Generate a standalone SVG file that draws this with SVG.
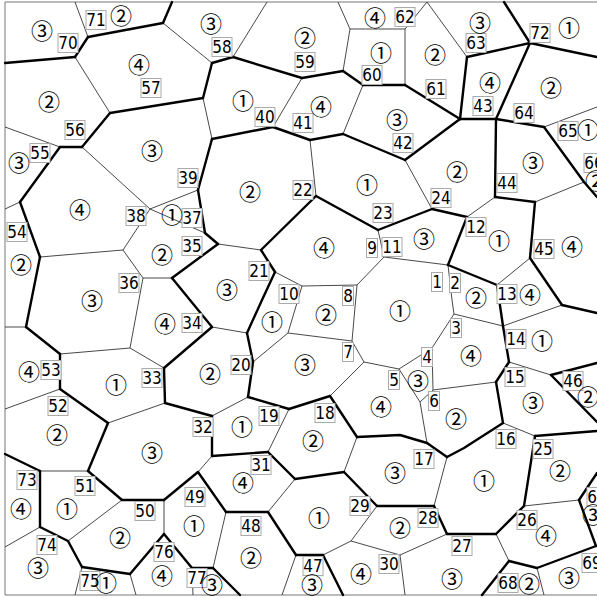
<svg xmlns="http://www.w3.org/2000/svg" width="597" height="598" viewBox="0 0 597 598">
<style>
.fr{fill:none;stroke:#777;stroke-width:1}
.t line,.t polyline{stroke:#333;stroke-width:0.9;fill:none}
.T line,.T polyline{stroke:#000;stroke-width:2.4;fill:none;stroke-linecap:round;stroke-linejoin:round}
.b{fill:#fff;stroke:#aaa;stroke-width:1}
.n{font-family:"DejaVu Sans Condensed","DejaVu Sans",sans-serif;font-stretch:condensed;font-size:17px;fill:#000;text-anchor:middle}
.c{font-family:"Noto Sans CJK JP","DejaVu Sans",sans-serif;font-size:22px;fill:#000;text-anchor:middle}
</style>
<rect x="0" y="0" width="597" height="598" fill="#fff"/>
<path class="fr" d="M600 2H5V595H600"/>
<g id="connectors">
<g class="t">
<line x1="75" y1="2" x2="88" y2="37"/>
<line x1="75" y1="57" x2="110" y2="113"/>
<line x1="163" y1="23" x2="212" y2="63"/>
<line x1="233" y1="57" x2="267" y2="2"/>
<line x1="203" y1="98" x2="212" y2="139"/>
<line x1="302" y1="78" x2="273" y2="127"/>
<line x1="343" y1="71" x2="350" y2="29"/>
<line x1="350" y1="29" x2="338" y2="2"/>
<line x1="350" y1="29" x2="405" y2="29"/>
<line x1="405" y1="29" x2="427" y2="2"/>
<line x1="405" y1="29" x2="405" y2="85"/>
<line x1="363" y1="85" x2="343" y2="134"/>
<line x1="427" y1="2" x2="467" y2="57"/>
<line x1="544" y1="127" x2="597" y2="107"/>
<line x1="405" y1="160" x2="432" y2="209"/>
<line x1="467" y1="217" x2="495" y2="197"/>
<line x1="535" y1="202" x2="584" y2="182"/>
<line x1="530" y1="258" x2="497" y2="285"/>
<line x1="448" y1="265" x2="384" y2="257"/>
<polyline points="448,265 452,300 454,314"/>
<line x1="310" y1="140" x2="316" y2="196"/>
<line x1="378" y1="230" x2="384" y2="257"/>
<line x1="384" y1="257" x2="357" y2="285"/>
<line x1="357" y1="285" x2="302" y2="286"/>
<line x1="302" y1="286" x2="275" y2="272"/>
<line x1="261" y1="250" x2="218" y2="244"/>
<line x1="198" y1="190" x2="150" y2="209"/>
<line x1="205" y1="233" x2="150" y2="209"/>
<line x1="60" y1="147" x2="5" y2="127"/>
<line x1="82" y1="147" x2="150" y2="209"/>
<line x1="20" y1="202" x2="5" y2="209"/>
<line x1="40" y1="257" x2="123" y2="250"/>
<line x1="150" y1="209" x2="123" y2="250"/>
<line x1="123" y1="250" x2="143" y2="278"/>
<line x1="143" y1="278" x2="172" y2="278"/>
<line x1="26" y1="327" x2="5" y2="327"/>
<line x1="60" y1="354" x2="130" y2="348"/>
<line x1="143" y1="278" x2="130" y2="348"/>
<line x1="130" y1="348" x2="164" y2="368"/>
<line x1="212" y1="327" x2="247" y2="333"/>
<line x1="253" y1="362" x2="288" y2="333"/>
<line x1="302" y1="286" x2="288" y2="333"/>
<line x1="288" y1="333" x2="352" y2="341"/>
<line x1="357" y1="285" x2="352" y2="341"/>
<line x1="352" y1="341" x2="364" y2="362"/>
<line x1="364" y1="362" x2="399" y2="369"/>
<line x1="399" y1="369" x2="432" y2="348"/>
<line x1="432" y1="348" x2="454" y2="314"/>
<line x1="454" y1="314" x2="503" y2="326"/>
<line x1="503" y1="326" x2="562" y2="305"/>
<line x1="509" y1="362" x2="551" y2="375"/>
<line x1="496" y1="382" x2="433" y2="390"/>
<line x1="432" y1="348" x2="433" y2="390"/>
<line x1="433" y1="390" x2="420" y2="402"/>
<line x1="399" y1="369" x2="420" y2="402"/>
<line x1="420" y1="402" x2="427" y2="443"/>
<line x1="503" y1="423" x2="535" y2="436"/>
<line x1="447" y1="457" x2="434" y2="506"/>
<line x1="330" y1="396" x2="364" y2="362"/>
<line x1="248" y1="397" x2="212" y2="416"/>
<line x1="165" y1="403" x2="108" y2="423"/>
<line x1="60" y1="389" x2="5" y2="409"/>
<line x1="88" y1="471" x2="40" y2="471"/>
<line x1="198" y1="472" x2="212" y2="456"/>
<line x1="268" y1="452" x2="289" y2="409"/>
<line x1="344" y1="472" x2="357" y2="437"/>
<line x1="268" y1="512" x2="295" y2="479"/>
<line x1="351" y1="541" x2="377" y2="506"/>
<line x1="447" y1="534" x2="400" y2="555"/>
<line x1="400" y1="555" x2="405" y2="595"/>
<line x1="400" y1="555" x2="351" y2="541"/>
<line x1="351" y1="541" x2="323" y2="555"/>
<line x1="296" y1="555" x2="282" y2="595"/>
<line x1="524" y1="506" x2="579" y2="500"/>
<line x1="496" y1="534" x2="509" y2="561"/>
<line x1="537" y1="568" x2="544" y2="595"/>
<line x1="226" y1="512" x2="213" y2="568"/>
<line x1="192" y1="568" x2="193" y2="595"/>
<line x1="164" y1="534" x2="164" y2="500"/>
<line x1="130" y1="574" x2="136" y2="595"/>
<line x1="82" y1="567" x2="75" y2="595"/>
<line x1="68" y1="541" x2="122" y2="500"/>
<line x1="40" y1="527" x2="5" y2="547"/>
</g>
<g class="T">
<line x1="88" y1="37" x2="163" y2="23"/>
<line x1="163" y1="23" x2="172" y2="2"/>
<line x1="88" y1="37" x2="75" y2="57"/>
<line x1="75" y1="57" x2="5" y2="63"/>
<line x1="110" y1="113" x2="203" y2="98"/>
<line x1="212" y1="63" x2="203" y2="98"/>
<line x1="212" y1="63" x2="233" y2="57"/>
<line x1="233" y1="57" x2="302" y2="78"/>
<line x1="212" y1="139" x2="273" y2="127"/>
<line x1="302" y1="78" x2="343" y2="71"/>
<line x1="343" y1="71" x2="363" y2="85"/>
<line x1="363" y1="85" x2="405" y2="85"/>
<line x1="273" y1="127" x2="310" y2="140"/>
<line x1="310" y1="140" x2="343" y2="134"/>
<line x1="343" y1="134" x2="405" y2="160"/>
<line x1="405" y1="85" x2="460" y2="119"/>
<line x1="467" y1="57" x2="530" y2="43"/>
<line x1="530" y1="43" x2="504" y2="2"/>
<line x1="530" y1="43" x2="597" y2="57"/>
<line x1="467" y1="57" x2="460" y2="119"/>
<line x1="530" y1="43" x2="496" y2="119"/>
<line x1="460" y1="119" x2="496" y2="119"/>
<line x1="460" y1="119" x2="405" y2="160"/>
<line x1="496" y1="119" x2="544" y2="127"/>
<line x1="544" y1="127" x2="584" y2="182"/>
<line x1="584" y1="182" x2="597" y2="197"/>
<line x1="496" y1="119" x2="495" y2="197"/>
<line x1="432" y1="209" x2="378" y2="230"/>
<line x1="432" y1="209" x2="467" y2="217"/>
<line x1="495" y1="197" x2="535" y2="202"/>
<line x1="535" y1="202" x2="530" y2="258"/>
<line x1="467" y1="217" x2="448" y2="265"/>
<line x1="530" y1="258" x2="562" y2="305"/>
<line x1="448" y1="265" x2="497" y2="285"/>
<line x1="497" y1="285" x2="503" y2="326"/>
<line x1="316" y1="196" x2="261" y2="250"/>
<line x1="316" y1="196" x2="378" y2="230"/>
<line x1="275" y1="272" x2="261" y2="250"/>
<polyline points="275,272 262,300 247,333"/>
<line x1="218" y1="244" x2="172" y2="278"/>
<line x1="218" y1="244" x2="205" y2="233"/>
<line x1="205" y1="233" x2="198" y2="190"/>
<line x1="198" y1="190" x2="212" y2="139"/>
<line x1="110" y1="113" x2="82" y2="147"/>
<line x1="82" y1="147" x2="60" y2="147"/>
<line x1="60" y1="147" x2="20" y2="202"/>
<line x1="20" y1="202" x2="40" y2="257"/>
<line x1="40" y1="257" x2="26" y2="327"/>
<line x1="26" y1="327" x2="60" y2="354"/>
<line x1="164" y1="368" x2="212" y2="327"/>
<line x1="172" y1="278" x2="212" y2="327"/>
<line x1="247" y1="333" x2="253" y2="362"/>
<line x1="562" y1="305" x2="597" y2="313"/>
<line x1="503" y1="326" x2="509" y2="362"/>
<line x1="509" y1="362" x2="496" y2="382"/>
<line x1="551" y1="375" x2="597" y2="363"/>
<line x1="551" y1="375" x2="597" y2="422"/>
<line x1="496" y1="382" x2="503" y2="423"/>
<polyline points="503,423 464,448 447,457"/>
<line x1="535" y1="436" x2="524" y2="506"/>
<line x1="535" y1="436" x2="597" y2="431"/>
<polyline points="427,443 400,435 357,437"/>
<line x1="427" y1="443" x2="447" y2="457"/>
<line x1="357" y1="437" x2="330" y2="396"/>
<line x1="330" y1="396" x2="289" y2="409"/>
<line x1="289" y1="409" x2="248" y2="397"/>
<line x1="248" y1="397" x2="253" y2="362"/>
<line x1="212" y1="416" x2="165" y2="403"/>
<line x1="165" y1="403" x2="164" y2="368"/>
<line x1="60" y1="389" x2="108" y2="423"/>
<line x1="60" y1="354" x2="60" y2="389"/>
<line x1="108" y1="423" x2="88" y2="471"/>
<line x1="40" y1="471" x2="5" y2="454"/>
<line x1="88" y1="471" x2="122" y2="500"/>
<line x1="122" y1="500" x2="164" y2="500"/>
<line x1="164" y1="500" x2="198" y2="472"/>
<line x1="212" y1="456" x2="212" y2="416"/>
<line x1="212" y1="456" x2="268" y2="452"/>
<line x1="268" y1="452" x2="295" y2="479"/>
<line x1="295" y1="479" x2="344" y2="472"/>
<line x1="344" y1="472" x2="377" y2="506"/>
<line x1="377" y1="506" x2="434" y2="506"/>
<line x1="434" y1="506" x2="447" y2="534"/>
<line x1="447" y1="534" x2="496" y2="534"/>
<line x1="496" y1="534" x2="524" y2="506"/>
<line x1="579" y1="500" x2="597" y2="473"/>
<line x1="579" y1="500" x2="596" y2="546"/>
<line x1="509" y1="561" x2="482" y2="595"/>
<line x1="509" y1="561" x2="537" y2="568"/>
<line x1="537" y1="568" x2="596" y2="546"/>
<line x1="323" y1="555" x2="296" y2="555"/>
<line x1="323" y1="555" x2="343" y2="595"/>
<line x1="296" y1="555" x2="268" y2="512"/>
<line x1="268" y1="512" x2="226" y2="512"/>
<line x1="226" y1="512" x2="198" y2="472"/>
<line x1="213" y1="568" x2="240" y2="595"/>
<line x1="213" y1="568" x2="192" y2="568"/>
<line x1="192" y1="568" x2="164" y2="534"/>
<line x1="164" y1="534" x2="130" y2="574"/>
<line x1="130" y1="574" x2="82" y2="567"/>
<line x1="82" y1="567" x2="68" y2="541"/>
<line x1="68" y1="541" x2="40" y2="527"/>
<line x1="40" y1="527" x2="40" y2="471"/>
</g>
</g>
<g id="regions">
<g id="r1"><rect class="b" x="431.5" y="272.5" width="11" height="19"/><text class="n" x="437" y="288">1</text><text class="c" x="400" y="318.5">①</text></g>
<g id="r2"><rect class="b" x="449.5" y="273.5" width="11" height="19"/><text class="n" x="455" y="289">2</text><text class="c" x="476" y="305.5">②</text></g>
<g id="r3"><rect class="b" x="450.5" y="318.5" width="11" height="19"/><text class="n" x="456" y="334">3</text><text class="c" x="471" y="363.5">④</text></g>
<g id="r4"><rect class="b" x="421.5" y="347.5" width="11" height="19"/><text class="n" x="427" y="363">4</text><text class="c" x="418" y="388.5">③</text></g>
<g id="r5"><rect class="b" x="388.5" y="370.5" width="11" height="19"/><text class="n" x="394" y="386">5</text><text class="c" x="381" y="414.5">④</text></g>
<g id="r6"><rect class="b" x="428.5" y="391.5" width="11" height="19"/><text class="n" x="434" y="407">6</text><text class="c" x="456" y="426.5">②</text></g>
<g id="r7"><rect class="b" x="342.5" y="342.5" width="11" height="19"/><text class="n" x="348" y="358">7</text><text class="c" x="305" y="372.5">③</text></g>
<g id="r8"><rect class="b" x="342.5" y="286.5" width="11" height="19"/><text class="n" x="348" y="302">8</text><text class="c" x="326" y="322.5">②</text></g>
<g id="r9"><rect class="b" x="366.5" y="238.5" width="11" height="19"/><text class="n" x="372" y="254">9</text><text class="c" x="324" y="255.5">④</text></g>
<g id="r10"><rect class="b" x="279" y="284.5" width="20" height="19"/><text class="n" x="289" y="300">10</text><text class="c" x="272" y="329.5">①</text></g>
<g id="r11"><rect class="b" x="382" y="237.5" width="20" height="19"/><text class="n" x="392" y="253">11</text><text class="c" x="424" y="246.5">③</text></g>
<g id="r12"><rect class="b" x="466" y="217.5" width="20" height="19"/><text class="n" x="476" y="233">12</text><text class="c" x="499" y="248.5">①</text></g>
<g id="r13"><rect class="b" x="497" y="284.5" width="20" height="19"/><text class="n" x="507" y="300">13</text><text class="c" x="530" y="302.5">④</text></g>
<g id="r14"><rect class="b" x="506" y="329.5" width="20" height="19"/><text class="n" x="516" y="345">14</text><text class="c" x="542" y="348.5">①</text></g>
<g id="r15"><rect class="b" x="505" y="367.5" width="20" height="19"/><text class="n" x="515" y="383">15</text><text class="c" x="533" y="410.5">③</text></g>
<g id="r16"><rect class="b" x="496" y="429.5" width="20" height="19"/><text class="n" x="506" y="445">16</text><text class="c" x="484" y="488.5">①</text></g>
<g id="r17"><rect class="b" x="414" y="449.5" width="20" height="19"/><text class="n" x="424" y="465">17</text><text class="c" x="395" y="480.5">③</text></g>
<g id="r18"><rect class="b" x="315" y="403.5" width="20" height="19"/><text class="n" x="325" y="419">18</text><text class="c" x="313" y="448.5">②</text></g>
<g id="r19"><rect class="b" x="259" y="406.5" width="20" height="19"/><text class="n" x="269" y="422">19</text><text class="c" x="242" y="434.5">①</text></g>
<g id="r20"><rect class="b" x="231" y="355.5" width="20" height="19"/><text class="n" x="241" y="371">20</text><text class="c" x="210" y="381.5">②</text></g>
<g id="r21"><rect class="b" x="249" y="261.5" width="20" height="19"/><text class="n" x="259" y="277">21</text><text class="c" x="227" y="297.5">③</text></g>
<g id="r22"><rect class="b" x="293" y="180.5" width="20" height="19"/><text class="n" x="303" y="196">22</text><text class="c" x="250" y="199.5">②</text></g>
<g id="r23"><rect class="b" x="373" y="203.5" width="20" height="19"/><text class="n" x="383" y="219">23</text><text class="c" x="367" y="192.5">①</text></g>
<g id="r24"><rect class="b" x="431" y="188.5" width="20" height="19"/><text class="n" x="441" y="204">24</text><text class="c" x="457" y="179.5">②</text></g>
<g id="r25"><rect class="b" x="533" y="439.5" width="20" height="19"/><text class="n" x="543" y="455">25</text><text class="c" x="560" y="478.5">②</text></g>
<g id="r26"><rect class="b" x="517" y="510.5" width="20" height="19"/><text class="n" x="527" y="526">26</text><text class="c" x="546" y="543.5">④</text></g>
<g id="r27"><rect class="b" x="452" y="536.5" width="20" height="19"/><text class="n" x="462" y="552">27</text><text class="c" x="452" y="586.5">③</text></g>
<g id="r28"><rect class="b" x="418" y="508.5" width="20" height="19"/><text class="n" x="428" y="524">28</text><text class="c" x="400" y="535.5">②</text></g>
<g id="r29"><rect class="b" x="350" y="496.5" width="20" height="19"/><text class="n" x="360" y="512">29</text><text class="c" x="319" y="525.5">①</text></g>
<g id="r30"><rect class="b" x="379" y="554.5" width="20" height="19"/><text class="n" x="389" y="570">30</text><text class="c" x="361" y="581.5">④</text></g>
<g id="r31"><rect class="b" x="251" y="455.5" width="20" height="19"/><text class="n" x="261" y="471">31</text><text class="c" x="243" y="490.5">④</text></g>
<g id="r32"><rect class="b" x="193" y="417.5" width="20" height="19"/><text class="n" x="203" y="433">32</text><text class="c" x="152" y="460.5">③</text></g>
<g id="r33"><rect class="b" x="142" y="368.5" width="20" height="19"/><text class="n" x="152" y="384">33</text><text class="c" x="116" y="392.5">①</text></g>
<g id="r34"><rect class="b" x="182" y="313.5" width="20" height="19"/><text class="n" x="192" y="329">34</text><text class="c" x="165" y="331.5">④</text></g>
<g id="r35"><rect class="b" x="182" y="236.5" width="20" height="19"/><text class="n" x="192" y="252">35</text><text class="c" x="162" y="262.5">②</text></g>
<g id="r36"><rect class="b" x="119" y="273.5" width="20" height="19"/><text class="n" x="129" y="289">36</text><text class="c" x="92" y="308.5">③</text></g>
<g id="r37"><rect class="b" x="182" y="208.5" width="20" height="19"/><text class="n" x="192" y="224">37</text><text class="c" x="172" y="222.5">①</text></g>
<g id="r38"><rect class="b" x="126" y="206.5" width="20" height="19"/><text class="n" x="136" y="222">38</text><text class="c" x="80" y="217.5">④</text></g>
<g id="r39"><rect class="b" x="178" y="168.5" width="20" height="19"/><text class="n" x="188" y="184">39</text><text class="c" x="152" y="158.5">③</text></g>
<g id="r40"><rect class="b" x="255" y="107.5" width="20" height="19"/><text class="n" x="265" y="123">40</text><text class="c" x="243" y="108.5">①</text></g>
<g id="r41"><rect class="b" x="293" y="113.5" width="20" height="19"/><text class="n" x="303" y="129">41</text><text class="c" x="321" y="114.5">④</text></g>
<g id="r42"><rect class="b" x="393" y="133.5" width="20" height="19"/><text class="n" x="403" y="149">42</text><text class="c" x="397" y="127.5">③</text></g>
<g id="r43"><rect class="b" x="473" y="96.5" width="20" height="19"/><text class="n" x="483" y="112">43</text><text class="c" x="490" y="90.5">④</text></g>
<g id="r44"><rect class="b" x="497" y="173.5" width="20" height="19"/><text class="n" x="507" y="189">44</text><text class="c" x="533" y="170.5">③</text></g>
<g id="r45"><rect class="b" x="534" y="239.5" width="20" height="19"/><text class="n" x="544" y="255">45</text><text class="c" x="572" y="254.5">④</text></g>
<g id="r46"><rect class="b" x="563" y="371.5" width="20" height="19"/><text class="n" x="573" y="387">46</text><text class="c" x="588" y="404.5">②</text></g>
<g id="r47"><rect class="b" x="303" y="556.5" width="20" height="19"/><text class="n" x="313" y="572">47</text><text class="c" x="312" y="592.5">③</text></g>
<g id="r48"><rect class="b" x="241" y="516.5" width="20" height="19"/><text class="n" x="251" y="532">48</text><text class="c" x="251" y="565.5">②</text></g>
<g id="r49"><rect class="b" x="185" y="487.5" width="20" height="19"/><text class="n" x="195" y="503">49</text><text class="c" x="194" y="533.5">①</text></g>
<g id="r50"><rect class="b" x="135" y="501.5" width="20" height="19"/><text class="n" x="145" y="517">50</text><text class="c" x="120" y="545.5">②</text></g>
<g id="r51"><rect class="b" x="75" y="476.5" width="20" height="19"/><text class="n" x="85" y="492">51</text><text class="c" x="67" y="516.5">①</text></g>
<g id="r52"><rect class="b" x="48" y="396.5" width="20" height="19"/><text class="n" x="58" y="412">52</text><text class="c" x="57" y="442.5">②</text></g>
<g id="r53"><rect class="b" x="41" y="360.5" width="20" height="19"/><text class="n" x="51" y="376">53</text><text class="c" x="29" y="379.5">④</text></g>
<g id="r54"><rect class="b" x="7" y="222.5" width="20" height="19"/><text class="n" x="17" y="238">54</text><text class="c" x="21" y="272.5">②</text></g>
<g id="r55"><rect class="b" x="30" y="143.5" width="20" height="19"/><text class="n" x="40" y="159">55</text><text class="c" x="19" y="170.5">③</text></g>
<g id="r56"><rect class="b" x="65" y="120.5" width="20" height="19"/><text class="n" x="75" y="136">56</text><text class="c" x="49" y="109.5">②</text></g>
<g id="r57"><rect class="b" x="141" y="78.5" width="20" height="19"/><text class="n" x="151" y="94">57</text><text class="c" x="139" y="72.5">④</text></g>
<g id="r58"><rect class="b" x="212" y="37.5" width="20" height="19"/><text class="n" x="222" y="53">58</text><text class="c" x="211" y="31.5">③</text></g>
<g id="r59"><rect class="b" x="295" y="52.5" width="20" height="19"/><text class="n" x="305" y="68">59</text><text class="c" x="305" y="45.5">②</text></g>
<g id="r60"><rect class="b" x="362" y="65.5" width="20" height="19"/><text class="n" x="372" y="81">60</text><text class="c" x="381" y="60.5">①</text></g>
<g id="r61"><rect class="b" x="426" y="79.5" width="20" height="19"/><text class="n" x="436" y="95">61</text><text class="c" x="435" y="62.5">②</text></g>
<g id="r62"><rect class="b" x="395" y="7.5" width="20" height="19"/><text class="n" x="405" y="23">62</text><text class="c" x="375" y="25.5">④</text></g>
<g id="r63"><rect class="b" x="466" y="33.5" width="20" height="19"/><text class="n" x="476" y="49">63</text><text class="c" x="480" y="30.5">③</text></g>
<g id="r64"><rect class="b" x="514" y="103.5" width="20" height="19"/><text class="n" x="524" y="119">64</text><text class="c" x="551" y="95.5">②</text></g>
<g id="r65"><rect class="b" x="558" y="121.5" width="20" height="19"/><text class="n" x="568" y="137">65</text><text class="c" x="588" y="137.5">①</text></g>
<g id="r66"><rect class="b" x="584" y="153.5" width="20" height="19"/><text class="n" x="594" y="169">66</text><text class="c" x="596" y="188.5">②</text></g>
<g id="r67"><rect class="b" x="587" y="487.5" width="20" height="19"/><text class="n" x="597" y="503">67</text><text class="c" x="593" y="522.5">③</text></g>
<g id="r68"><rect class="b" x="498" y="573.5" width="20" height="19"/><text class="n" x="508" y="589">68</text><text class="c" x="529" y="591.5">②</text></g>
<g id="r69"><rect class="b" x="582" y="553.5" width="20" height="19"/><text class="n" x="592" y="569">69</text><text class="c" x="569" y="585.5">③</text></g>
<g id="r70"><rect class="b" x="58" y="33.5" width="20" height="19"/><text class="n" x="68" y="49">70</text><text class="c" x="42" y="38.5">③</text></g>
<g id="r71"><rect class="b" x="86" y="10.5" width="20" height="19"/><text class="n" x="96" y="26">71</text><text class="c" x="121" y="23.5">②</text></g>
<g id="r72"><rect class="b" x="530" y="23.5" width="20" height="19"/><text class="n" x="540" y="39">72</text><text class="c" x="569" y="35.5">①</text></g>
<g id="r73"><rect class="b" x="17" y="470.5" width="20" height="19"/><text class="n" x="27" y="486">73</text><text class="c" x="21" y="516.5">④</text></g>
<g id="r74"><rect class="b" x="37" y="535.5" width="20" height="19"/><text class="n" x="47" y="551">74</text><text class="c" x="38" y="575.5">③</text></g>
<g id="r75"><rect class="b" x="80" y="571.5" width="20" height="19"/><text class="n" x="90" y="587">75</text><text class="c" x="106" y="590.5">①</text></g>
<g id="r76"><rect class="b" x="154" y="542.5" width="20" height="19"/><text class="n" x="164" y="558">76</text><text class="c" x="162" y="583.5">④</text></g>
<g id="r77"><rect class="b" x="187" y="568.5" width="20" height="19"/><text class="n" x="197" y="584">77</text><text class="c" x="212" y="592.5">③</text></g>
</g>
</svg>
